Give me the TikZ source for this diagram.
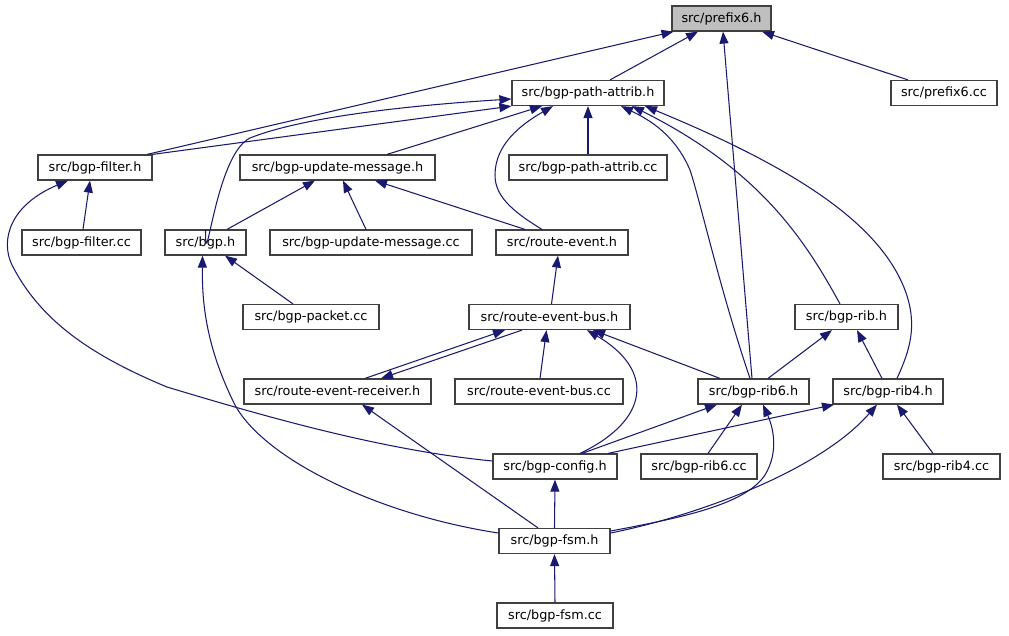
\documentclass[tikz,border=0pt]{standalone}
\usepackage{fontspec}
\setmainfont{DejaVu Sans}
\usetikzlibrary{arrows.meta}
\definecolor{edgeblue}{RGB}{25,25,112}
\definecolor{boxborder}{RGB}{64,64,64}
\definecolor{rootfill}{RGB}{191,191,191}
\begin{document}
\begin{tikzpicture}[x=1pt,y=-1pt,
  filebox/.style={draw=boxborder, line width=1.2pt, fill=white, minimum height=25pt, inner sep=0pt,
    font=\fontsize{12.8}{15}\selectfont, text=black},
  rootbox/.style={filebox, fill=rootfill},
  dep/.style={draw=edgeblue, line width=1.05pt, -{Triangle[length=12pt,width=9pt]}}]
\fill[white] (0,0) rectangle (1009,635);
\useasboundingbox (0,0) rectangle (1009,635);
% nodes
\node[rootbox, minimum width=99pt] (prefix6) at (721.5,18.5) {src/prefix6.h};
\node[filebox, minimum width=152pt] (pathattrib) at (588,93) {src/bgp-path-attrib.h};
\node[filebox, minimum width=106pt] (prefix6cc) at (944,93) {src/prefix6.cc};
\node[filebox, minimum width=114pt] (filter) at (95,167.5) {src/bgp-filter.h};
\node[filebox, minimum width=195pt] (updmsg) at (337.5,167.5) {src/bgp-update-message.h};
\node[filebox, minimum width=158pt] (pathattribcc) at (588,167.5) {src/bgp-path-attrib.cc};
\node[filebox, minimum width=119pt] (filtercc) at (81.5,242.5) {src/bgp-filter.cc};
\node[filebox, minimum width=81pt] (bgph) at (205.5,242.5) {src/bgp.h};
\node[filebox, minimum width=202pt] (updmsgcc) at (371,242.5) {src/bgp-update-message.cc};
\node[filebox, minimum width=132pt] (routeevent) at (562,242.5) {src/route-event.h};
\node[filebox, minimum width=136pt] (packetcc) at (311,317) {src/bgp-packet.cc};
\node[filebox, minimum width=161pt] (bus) at (549.5,317) {src/route-event-bus.h};
\node[filebox, minimum width=103pt] (rib) at (846.5,317) {src/bgp-rib.h};
\node[filebox, minimum width=187pt] (receiver) at (337.5,391.5) {src/route-event-receiver.h};
\node[filebox, minimum width=168pt] (buscc) at (539,391.5) {src/route-event-bus.cc};
\node[filebox, minimum width=111pt] (rib6) at (753.5,391.5) {src/bgp-rib6.h};
\node[filebox, minimum width=110pt] (rib4) at (888,391.5) {src/bgp-rib4.h};
\node[filebox, minimum width=124pt] (config) at (555,466.5) {src/bgp-config.h};
\node[filebox, minimum width=116pt] (rib6cc) at (699,466.5) {src/bgp-rib6.cc};
\node[filebox, minimum width=117pt] (rib4cc) at (941.5,466.5) {src/bgp-rib4.cc};
\node[filebox, minimum width=111pt] (fsm) at (554.5,541) {src/bgp-fsm.h};
\node[filebox, minimum width=116pt] (fsmcc) at (555,615.5) {src/bgp-fsm.cc};
% edges into prefix6
\draw[dep] ([xshift=52pt]filter.north) -- ([xshift=-48pt]prefix6.south);
\draw[dep] ([xshift=22pt]pathattrib.north) -- ([xshift=-23.5pt]prefix6.south);
\draw[dep] ([xshift=-1.5pt]rib6.north) -- ([xshift=1.5pt]prefix6.south);
\draw[dep] ([xshift=-36pt]prefix6cc.north) -- ([xshift=40.5pt]prefix6.south);
% edges into pathattrib
\draw[dep] (bgph.north) .. controls ([yshift=-55pt]bgph.north) and (215,155) .. (250,138)
  .. controls (300,118) and (400,106) .. ([yshift=-6pt]pathattrib.west);
\draw[dep] (filter.north east) -- (pathattrib.south west);
\draw[dep] ([xshift=49.5pt]updmsg.north) -- ([xshift=-46pt]pathattrib.south);
\draw[dep] ([xshift=-20pt]routeevent.north) .. controls (510,210) and (495,195) .. (495,175)
  .. controls (495,145) and (520,125) .. ([xshift=-35pt]pathattrib.south);
\draw[dep] (pathattribcc.north) -- (pathattrib.south);
\draw[dep] ([xshift=-3.5pt]rib6.north) .. controls (720,290) and (700,200) .. (690,170)
  .. controls (675,135) and (650,120) .. ([xshift=33pt]pathattrib.south);
\draw[dep] ([xshift=-6.5pt]rib.north) .. controls (805,240) and (760,170) .. ([xshift=44pt]pathattrib.south);
\draw[dep] ([xshift=9pt]rib4.north) .. controls (910,350) and (918,325) .. (905,290)
  .. controls (880,225) and (800,170) .. ([xshift=57pt]pathattrib.south);
% edges into filter
\draw[dep] ([xshift=1.5pt]filtercc.north) -- ([xshift=-5pt]filter.south);
\draw[dep] ([yshift=5.5pt]config.west) .. controls (380,450) and (260,415) .. (167,387)
  .. controls (90,355) and (40,320) .. (12,265)
  .. controls (0,240) and (10,205) .. ([xshift=-27pt]filter.south);
% edges into updmsg
\draw[dep] ([xshift=21.5pt]bgph.north) -- ([xshift=-22.5pt]updmsg.south);
\draw[dep] ([xshift=-5pt]updmsgcc.north) -- ([xshift=5.5pt]updmsg.south);
\draw[dep] ([xshift=-37pt]routeevent.north) -- ([xshift=37.5pt]updmsg.south);
% edges into bgph
\draw[dep] ([xshift=-18pt]packetcc.north) -- ([xshift=19.5pt]bgph.south);
\draw[dep] ([yshift=8pt]fsm.west) .. controls (380,515) and (265,460) .. (235,405)
  .. controls (205,345) and (202,300) .. ([xshift=-3pt]bgph.south);
% edges into routeevent
\draw[dep] ([xshift=2pt]bus.north) -- ([xshift=-4pt]routeevent.south);
% edges into bus / receiver
\draw[dep] ([xshift=27.5pt]receiver.north) -- ([xshift=-44.5pt]bus.south);
\draw[dep] ([xshift=-27.5pt]bus.south) -- ([xshift=43.5pt]receiver.north);
\draw[dep] ([xshift=1pt]buscc.north) -- ([xshift=-3pt]bus.south);
\draw[dep] ([xshift=25pt]config.north) .. controls (650,420) and (655,370) .. ([xshift=37.5pt]bus.south);
\draw[dep] ([xshift=-33.5pt]rib6.north) -- ([xshift=43.5pt]bus.south);
% edges into rib
\draw[dep] ([xshift=14.5pt]rib6.north) -- ([xshift=-14.5pt]rib.south);
\draw[dep] ([xshift=-6pt]rib4.north) -- ([xshift=10.5pt]rib.south);
% edges into rib6
\draw[dep] ([xshift=27pt]config.north) -- ([xshift=-36.5pt]rib6.south);
\draw[dep] ([xshift=9pt]rib6cc.north) -- ([xshift=-11.5pt]rib6.south);
\draw[dep] ([yshift=10pt]fsm.east) .. controls (680,518) and (745,505) .. (765,475)
  .. controls (780,450) and (772,425) .. ([xshift=9.5pt]rib6.south);
% edges into rib4
\draw[dep] ([xshift=53pt]config.north) -- ([xshift=-54pt]rib4.south);
\draw[dep] ([yshift=8pt]fsm.east) .. controls (700,515) and (820,470) .. ([xshift=-11pt]rib4.south);
\draw[dep] ([xshift=-8.5pt]rib4cc.north) -- ([xshift=9pt]rib4.south);
% edges into config, receiver, fsm
\draw[dep] (fsm.north) -- (config.south);
\draw[dep] ([xshift=-16.5pt]fsm.north) -- ([xshift=24.5pt]receiver.south);
\draw[dep] (fsmcc.north) -- (fsm.south);
\end{tikzpicture}
\end{document}
